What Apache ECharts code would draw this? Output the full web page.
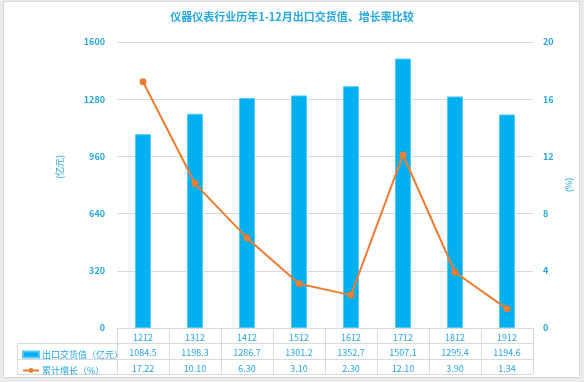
<!DOCTYPE html>
<html><head><meta charset="utf-8">
<script src="https://cdn.jsdelivr.net/npm/echarts@6/dist/echarts.min.js"></script>
<style>html,body{margin:0;padding:0;background:#ebebeb}#c{width:584px;height:382px}</style>
</head><body><div id="c"></div>
<script>
var titleText = '仪器仪表行业历年1-12月出口交货值、增长率比较';
var categories = ['1212','1312','1412','1512','1612','1712','1812','1912'];
var exportValues = [1084.5, 1198.3, 1286.7, 1301.2, 1352.7, 1507.1, 1295.4, 1194.6];
var growthValues = [17.22, 10.10, 6.30, 3.10, 2.30, 12.10, 3.90, 1.34];
var growthLabels = ['17.22','10.10','6.30','3.10','2.30','12.10','3.90','1.34'];
var seriesNames = ['出口交货值（亿元）', '累计增长（%）'];

var blue = '#25A7E2', font = 'Noto Sans CJK SC';
var chart = echarts.init(document.getElementById('c'), null, {renderer:'canvas'});
var gl = '#d9d9d9';
function legendAt(name, top, icon) {
  var l = {orient: 'horizontal', left: 17, top: top, itemWidth: 16, itemHeight: 6, itemGap: 0,
    textStyle: {fontSize: 9, color: blue, fontFamily: font, padding: [0, 0, 0, -2]},
    data: [name]};
  if (icon) l.icon = icon;
  return l;
}
chart.setOption({
  backgroundColor: '#ebebeb',
  textStyle: {fontFamily: font},
  title: {text: titleText, left: 'center', top: 6,
    textStyle: {fontSize: 11, fontWeight: 'bold', color: blue, fontFamily: font}},
  grid: {left: 117, right: 51, top: 42, bottom: 54},
  legend: [legendAt(seriesNames[0], 345, 'rect'), legendAt(seriesNames[1], 361)],
  graphic: [
    {type: 'rect', z: -10, shape: {x: 3.5, y: 1.5, width: 576, height: 376},
      style: {fill: '#fff', stroke: '#d6d6d6', lineWidth: 1}},
    {type: 'line', shape: {x1: 17, y1: 343.5, x2: 533, y2: 343.5}, style: {stroke: gl}},
    {type: 'line', shape: {x1: 17, y1: 359.5, x2: 533, y2: 359.5}, style: {stroke: gl}},
    {type: 'line', shape: {x1: 17, y1: 374.5, x2: 533, y2: 374.5}, style: {stroke: gl}},
    {type: 'line', shape: {x1: 17.5, y1: 343, x2: 17.5, y2: 375}, style: {stroke: gl}}
  ],
  xAxis: {type: 'category', data: categories,
    axisLine: {lineStyle: {color: gl}},
    axisTick: {show: true, interval: 0, length: 46, lineStyle: {color: gl}},
    axisLabel: {interval: 0, margin: 2,
      formatter: function (v, i) {
        return '{a|' + v + '}\n{b|' + exportValues[i].toFixed(1) + '}\n{b|' + growthLabels[i] + '}';
      },
      rich: {a: {fontSize: 9, color: blue, lineHeight: 15, fontFamily: font},
             b: {fontSize: 9, color: blue, lineHeight: 15.5, fontFamily: font}}}
  },
  yAxis: [
    {type: 'value', min: 0, max: 1600, interval: 320, name: '(亿元)', nameLocation: 'middle',
      nameGap: 53, nameRotate: 90,
      nameTextStyle: {fontSize: 9, color: blue, padding: [0, 0, 0, 36]},
      axisLine: {show: false}, axisTick: {show: false},
      axisLabel: {fontSize: 9, fontWeight: 'bold', color: blue, margin: 12,
        formatter: function (v) { return String(v); }},
      splitLine: {lineStyle: {color: gl}}},
    {type: 'value', min: 0, max: 20, interval: 4, name: '(%)', nameLocation: 'middle',
      nameGap: 28, nameRotate: 90,
      nameTextStyle: {fontSize: 9, color: blue},
      axisLine: {show: false}, axisTick: {show: false},
      axisLabel: {fontSize: 9, fontWeight: 'bold', color: blue, margin: 10},
      splitLine: {show: false}}
  ],
  series: [
    {name: seriesNames[0], type: 'bar', data: exportValues, barWidth: 16,
      itemStyle: {color: '#00B0F0', borderColor: '#55C8F3', borderWidth: 1}},
    {name: seriesNames[1], type: 'line', yAxisIndex: 1, data: growthValues,
      symbol: 'circle', symbolSize: 7,
      lineStyle: {color: '#ED7D31', width: 2}, itemStyle: {color: '#ED7D31'}}
  ]
});
</script></body></html>
